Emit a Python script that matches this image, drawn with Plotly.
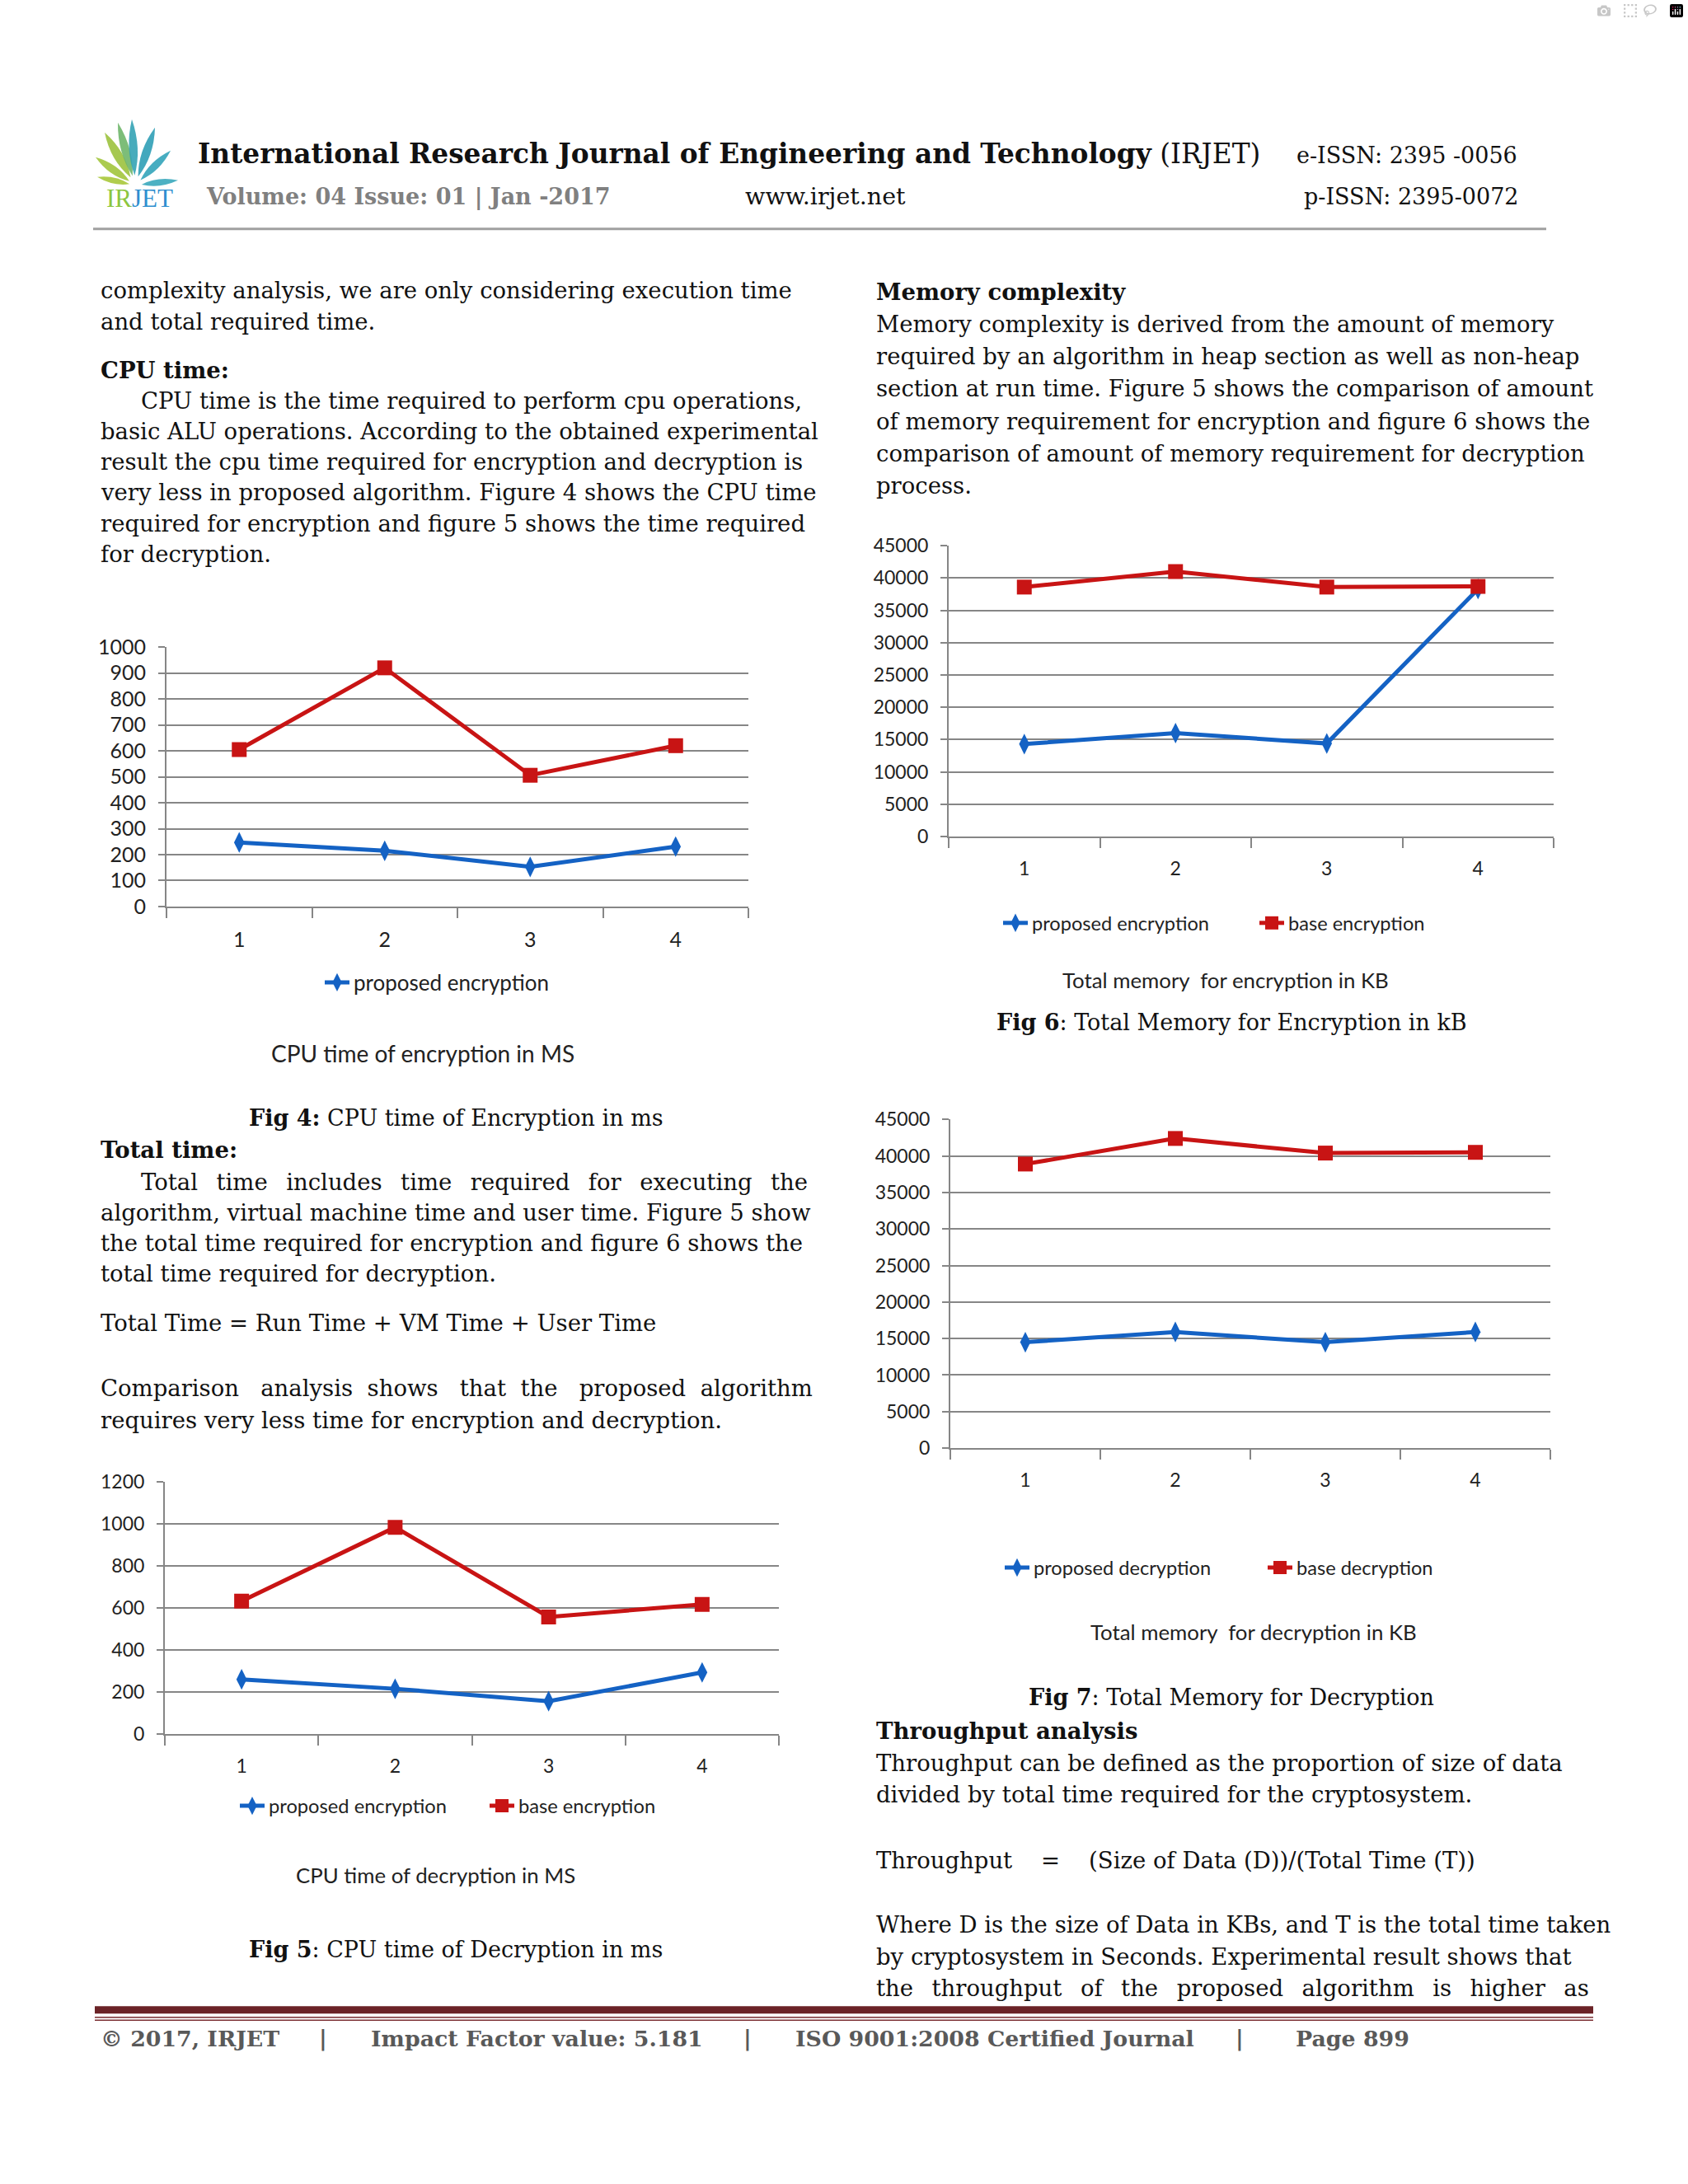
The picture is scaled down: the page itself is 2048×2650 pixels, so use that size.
import plotly.graph_objects as go

W, H = 2048, 2650
# the captured page comes out slightly squeezed vertically; pre-compensate
Y_OFF, Y_SCALE = 12.3, 0.9922


def px(x):
    return x / W


def py(y):
    y = y - (2.3 - 0.00376 * (y - 186))
    return 1 - ((y - Y_OFF) / Y_SCALE) / H


# ---------------- data ----------------
categories = ["1", "2", "3", "4"]
cpu_enc_proposed = [247, 215, 153, 231]
cpu_enc_base = [605, 920, 506, 620]
cpu_dec_proposed = [261, 216, 157, 294]
cpu_dec_base = [633, 985, 558, 618]
mem_enc_proposed = [14300, 16000, 14400, 38300]
mem_enc_base = [38600, 41000, 38600, 38700]
mem_dec_proposed = [14500, 15900, 14500, 15900]
mem_dec_base = [38900, 42400, 40400, 40500]

BLUE = "#1462c4"
RED = "#c81414"
GRID = "#868686"
SERIF = "DejaVu Serif"
SANS = "Lato"
TXT = "#111111"
BODY = 27.5

fig = go.Figure()

charts = [
    dict(ax="", box=(202, 908, 784, 1099), ymax=1000, dtick=100, tf=25,
         series=[(cpu_enc_proposed, "proposed encryption", BLUE, True),
                 (cpu_enc_base, "base encryption", RED, False)],
         legend="legend", lx=429, ly=1191, ew=0, lf=26,
         title="CPU time of encryption in MS", tx=513, ty=1277, ts=28),
    dict(ax="2", box=(200, 945, 1797, 2103), ymax=1200, dtick=200, tf=23,
         series=[(cpu_dec_proposed, "proposed encryption", BLUE, True),
                 (cpu_dec_base, "base encryption", RED, True)],
         legend="legend2", lx=326, ly=2190, ew=258, lf=23.7,
         title="CPU time of decryption in MS", tx=528, ty=2274, ts=25.8),
    dict(ax="3", box=(1151, 1885, 661, 1014), ymax=45000, dtick=5000, tf=23,
         series=[(mem_enc_proposed, "proposed encryption", BLUE, True),
                 (mem_enc_base, "base encryption", RED, True)],
         legend="legend3", lx=1252, ly=1119, ew=266, lf=23.6,
         title="Total memory  for encryption in KB", tx=1487, ty=1188, ts=25.8),
    dict(ax="4", box=(1153, 1881, 1357, 1756), ymax=45000, dtick=5000, tf=23,
         series=[(mem_dec_proposed, "proposed decryption", BLUE, True),
                 (mem_dec_base, "base decryption", RED, True)],
         legend="legend4", lx=1254, ly=1901, ew=274, lf=23.6,
         title="Total memory  for decryption in KB", tx=1521, ty=1979, ts=25.8),
]

annotations = []
layout_extra = {}

for c in charts:
    x0, x1, y0, y1 = c["box"]
    xa = "x" + c["ax"]
    ya = "y" + c["ax"]
    for vals, name, color, show in c["series"]:
        is_blue = color == BLUE
        fig.add_trace(go.Scatter(
            x=categories, y=vals, name=name, mode="lines+markers",
            xaxis=xa, yaxis=ya, legend=c["legend"], showlegend=show,
            line=dict(color=color, width=5),
            marker=dict(symbol="diamond-tall" if is_blue else "square",
                        size=18, color=color),
        ))
    layout_extra["xaxis" + c["ax"]] = dict(
        domain=[px(x0), px(x1)], anchor=ya, type="category",
        range=[-0.5, 3.5], tickson="boundaries", ticks="outside",
        ticklen=12, tickwidth=2, tickcolor=GRID, showline=True,
        linecolor=GRID, linewidth=2, showgrid=False, zeroline=False,
        tickfont=dict(family=SANS, size=c["tf"], color="#222"),
        ticklabelstandoff=17, fixedrange=True,
    )
    layout_extra["yaxis" + c["ax"]] = dict(
        domain=[py(y1), py(y0)], anchor=xa, range=[0, c["ymax"] * 1.0008],
        dtick=c["dtick"], tick0=0, tickformat="d",
        showgrid=True, gridcolor=GRID, gridwidth=2,
        ticks="outside", ticklen=8, tickwidth=2, tickcolor=GRID,
        showline=True, linecolor=GRID, linewidth=2, zeroline=False,
        tickfont=dict(family=SANS, size=c["tf"], color="#222"),
        ticklabelstandoff=10, fixedrange=True,
    )
    leg = dict(orientation="h", x=px(c["lx"] - 40), y=py(c["ly"]),
               xanchor="left", yanchor="middle",
               font=dict(family=SANS, size=c["lf"], color="#222"),
               bgcolor="rgba(0,0,0,0)", borderwidth=0, itemwidth=30)
    if c["ew"]:
        leg["entrywidth"] = c["ew"]
    layout_extra[c["legend"]] = leg
    annotations.append(dict(text=c["title"], x=px(c["tx"]), y=py(c["ty"]),
                            xref="paper", yref="paper", showarrow=False,
                            xanchor="center", yanchor="middle",
                            font=dict(family=SANS, size=c["ts"], color="#222")))


def add_text(text, x, y, size=BODY, bold=False, color=TXT, anchor="left",
             family=SERIF):
    if bold:
        text = "<b>" + text + "</b>"
    annotations.append(dict(text=text, x=px(x), y=py(y), xanchor=anchor,
                            yanchor="middle", xref="paper", yref="paper",
                            showarrow=False,
                            font=dict(family=family, size=size, color=color)))


# ---------------- header ----------------
add_text("<b>International Research Journal of Engineering and Technology</b> (IRJET)",
         238, 186, size=32.8)
add_text("Volume: 04 Issue: 01 | Jan -2017", 248, 238, size=27, bold=True,
         color="#808080")
add_text("www.irjet.net", 902, 238, size=28.5)
add_text("e-ISSN: 2395 -0056", 1571, 188, size=27)
add_text("p-ISSN: 2395-0072", 1580, 238, size=27)
annotations.append(dict(
    text='<span style="color:#8cc63f">IR</span><span style="color:#2f8fcf">JET</span>',
    x=px(169), y=py(240), xanchor="center", yanchor="middle",
    xref="paper", yref="paper", showarrow=False,
    font=dict(family="Liberation Serif", size=31)))

# ---------------- body text ----------------
SJ = " \u2002"   # widened gap for justified lines
L = 120
left_lines = [
    ("complexity analysis, we are only considering execution time", L, 351, False),
    ("and total required time.", L, 389, False),
    ("CPU time:", L, 448, True),
    ("CPU time is the time required to perform cpu operations,", 169, 485, False),
    ("basic ALU operations. According to the obtained experimental", L, 522, False),
    ("result the cpu time required for encryption and decryption is", L, 559, False),
    ("very less in proposed algorithm. Figure 4 shows the CPU time", L, 596, False),
    ("required for encryption and figure 5 shows the time required", L, 634, False),
    ("for decryption.", L, 671, False),
    ("Total time:", L, 1394, True),
    (SJ.join("Total time includes time required for executing the".split(" ")), 169, 1433, False),
    ("algorithm, virtual machine time and user time. Figure 5 show", L, 1470, False),
    ("the total time required for encryption and figure 6 shows the", L, 1507, False),
    ("total time required for decryption.", L, 1544, False),
    ("Total Time = Run Time + VM Time + User Time", L, 1604, False),
    ("Comparison &nbsp;&nbsp;analysis &nbsp;shows &nbsp;&nbsp;that &nbsp;the &nbsp;&nbsp;"
     "proposed &nbsp;algorithm", L, 1683, False),
    ("requires very less time for encryption and decryption.", L, 1722, False),
]
R = 1061
right_lines = [
    ("Memory complexity", R, 353, True),
    ("Memory complexity is derived from the amount of memory", R, 392, False),
    ("required by an algorithm in heap section as well as non-heap", R, 431, False),
    ("section at run time. Figure 5 shows the comparison of amount", R, 470, False),
    ("of memory requirement for encryption and figure 6 shows the", R, 510, False),
    ("comparison of amount of memory requirement for decryption", R, 549, False),
    ("process.", R, 588, False),
    ("Throughput analysis", R, 2099, True),
    ("Throughput can be defined as the proportion of size of data", R, 2138, False),
    ("divided by total time required for the cryptosystem.", R, 2176, False),
    ("Throughput &nbsp;&nbsp; = &nbsp;&nbsp; (Size of Data (D))/(Total Time (T))", R, 2256, False),
    ("Where D is the size of Data in KBs, and T is the total time taken", R, 2334, False),
    ("by cryptosystem in Seconds. Experimental result shows that", R, 2373, False),
    (SJ.join("the throughput of the proposed algorithm is higher as".split(" ")), R, 2411, False),
]
for t, x, y, b in left_lines + right_lines:
    add_text(t, x, y, bold=b)

# captions
add_text("<b>Fig 4:</b> CPU time of Encryption in ms", 553, 1355, size=27, anchor="center")
add_text("<b>Fig 5</b>: CPU time of Decryption in ms", 553, 2364, size=27, anchor="center")
add_text("<b>Fig 6</b>: Total Memory for Encryption in kB", 1494, 1239, size=27, anchor="center")
add_text("<b>Fig 7</b>: Total Memory for Decryption", 1494, 2058, size=27, anchor="center")

# ---------------- footer ----------------
FG = "#595959"
FS = 26.8
FY = 2472
add_text("© 2017, IRJET", 120, FY, size=FS, bold=True, color=FG)
add_text("|", 392, FY, size=FS, bold=True, color=FG, anchor="center")
add_text("Impact Factor value: 5.181", 448, FY, size=FS, bold=True, color=FG)
add_text("|", 907, FY, size=FS, bold=True, color=FG, anchor="center")
add_text("ISO 9001:2008 Certified Journal", 963, FY, size=FS, bold=True, color=FG)
add_text("|", 1504, FY, size=FS, bold=True, color=FG, anchor="center")
add_text("Page 899", 1570, FY, size=FS, bold=True, color=FG)

# ---------------- shapes ----------------
shapes = []


def hline(x0, x1, y, color, width):
    shapes.append(dict(type="line", xref="paper", yref="paper",
                       x0=px(x0), x1=px(x1), y0=py(y), y1=py(y),
                       line=dict(color=color, width=width)))


hline(113, 1876, 277, "#a0a0a0", 3)
shapes.append(dict(type="rect", xref="paper", yref="paper",
                   x0=px(115), x1=px(1933), y0=py(2442), y1=py(2433),
                   fillcolor="#6b2327", line=dict(width=0)))
hline(115, 1933, 2446.5, "#7a2c30", 1.5)
hline(115, 1933, 2450, "#7a2c30", 1.5)

# logo leaves
base = (164, 224)
leaves = [
    ((118, 214), 0.15, "#a8c83a"),
    ((116, 190), 0.16, "#a2c53c"),
    ((127, 160), 0.15, "#9cc23e"),
    ((143, 148), 0.13, "#6fb66a"),
    ((160, 144), 0.13, "#34a3b5"),
    ((188, 154), 0.14, "#2f9fb6"),
    ((207, 182), 0.15, "#33a4ba"),
    ((216, 218), 0.15, "#3aa8bd"),
]


def P(x, y):
    return f"{px(x):.6f},{py(y):.6f}"


for tip, wf, col in leaves:
    bx, by = base
    tx, ty = tip
    dx, dy = tx - bx, ty - by
    L2 = (dx * dx + dy * dy) ** 0.5
    nx, ny = -dy / L2, dx / L2
    w = wf * L2
    mx, my = bx + 0.55 * dx, by + 0.55 * dy
    c1 = (mx + nx * w, my + ny * w)
    c2 = (mx - nx * w, my - ny * w)
    sx, sy = bx + 0.15 * dx, by + 0.15 * dy
    path = f"M{P(sx, sy)} Q{P(*c1)} {P(tx, ty)} Q{P(*c2)} {P(sx, sy)} Z"
    shapes.append(dict(type="path", xref="paper", yref="paper", path=path,
                       fillcolor=col, line=dict(width=0), opacity=0.9))

fig.update_layout(
    width=W, height=H, margin=dict(l=0, r=0, t=0, b=0),
    paper_bgcolor="white", plot_bgcolor="white",
    annotations=annotations, shapes=shapes,
    **layout_extra,
)

fig.write_html(
    "out.html",
    post_script=("document.documentElement.style.margin='0';"
                 "document.body.style.margin='0';"),
)
